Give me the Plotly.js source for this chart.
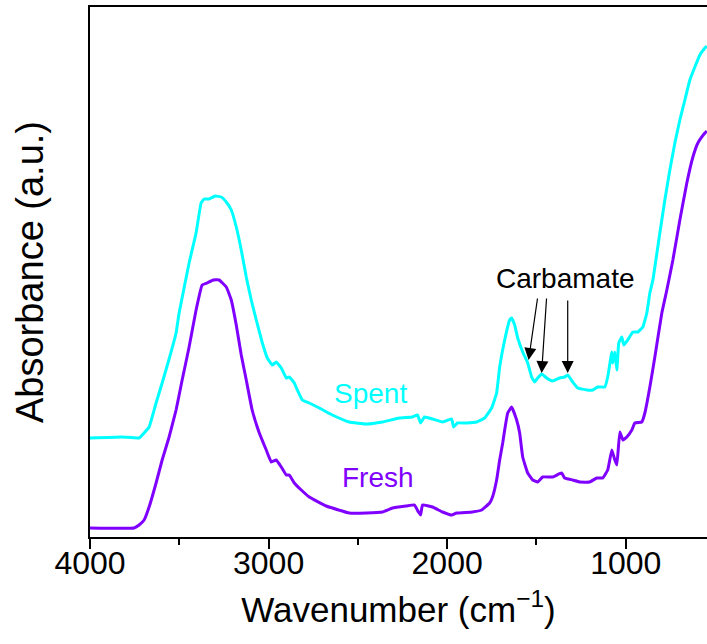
<!DOCTYPE html>
<html>
<head>
<meta charset="utf-8">
<script src="https://cdn.plot.ly/plotly-3.0.1.min.js"></script>
<style>html,body{margin:0;padding:0;background:#fff;}#chart{width:707px;height:644px;}</style>
</head>
<body>
<div id="chart"></div>
<script>
// Spent sample spectrum (wavenumber, absorbance a.u.)
const spentWavenumber = [4000,3820,3725,3697,3669,3630,3596,3557,3518,3501,3445,3406,3378,3361,3333,3299,3265,3237,3209,3181,3153,3125,3097,3069,3035,3007,2979,2957,2929,2901,2884,2856,2839,2811,2772,2716,2643,2548,2452,2362,2267,2194,2166,2149,2127,2082,2026,1975,1964,1942,1891,1835,1790,1751,1723,1706,1678,1650,1639,1622,1605,1577,1549,1527,1510,1493,1471,1443,1409,1370,1342,1325,1297,1269,1218,1185,1157,1117,1101,1078,1073,1061,1050,1039,1022,1011,989,960,932,904,882,865,848,837,809,781,753,725,697,669,641,613,585,557,546];
const spentAbs = [99,100,99,104,110,134,154,178,204,224,274,304,334,338,338,341,340,335,327,310,287,260,237,217,194,179,172,175,169,159,160,154,147,137,134,129,122,115,113,115,119,120,122,114,120,118,115,118,110,114,114,115,119,129,144,170,197,217,219,212,199,185,174,160,155,159,163,159,156,159,160,162,155,149,147,147,150,150,160,185,174,185,167,194,200,192,197,205,205,210,224,244,257,270,304,337,367,394,417,437,457,470,482,489,491];

// Fresh sample spectrum
const freshWavenumber = [4000,3753,3725,3697,3669,3630,3596,3557,3518,3484,3445,3406,3372,3344,3310,3277,3237,3209,3181,3153,3125,3092,3052,3013,2985,2957,2929,2901,2884,2856,2817,2772,2677,2548,2452,2362,2306,2228,2183,2161,2149,2138,2082,2026,1975,1947,1858,1807,1762,1746,1723,1706,1689,1678,1661,1639,1611,1594,1577,1549,1521,1493,1465,1409,1359,1342,1297,1258,1202,1162,1129,1101,1078,1061,1050,1033,1016,994,966,949,910,893,865,837,798,770,736,697,658,624,596,557,546];
const freshAbs = [9,9,12,17,30,54,77,100,127,157,190,227,252,254,257,257,250,237,212,182,157,127,104,87,75,77,70,62,62,54,47,40,31,24,24,25,29,31,32,25,22,32,30,25,22,24,25,27,34,40,57,77,94,107,124,130,117,104,80,64,57,55,60,60,64,59,57,55,55,59,59,67,87,77,72,105,97,100,107,114,115,124,150,180,224,247,277,317,354,380,394,404,406];

// Carbamate arrows: tail and head positions (wavenumber, absorbance)
const arrowTailW = [1493,1443,1325];
const arrowTailA = [240,240,238];
const arrowHeadW = [1544,1471,1325];
const arrowHeadA = [177,164,164];

// Axis ticks
const majorTicks = [4000, 3000, 2000, 1000];
const majorTickText = ["4000", "3000", "2000", "1000"];
const minorTicks = [3500, 2500, 1500];

const seriesNames = ["Spent","Fresh"];
const seriesColors = ["#00FFFF","#8000FF"];
const FONT = "Liberation Sans, Arial, sans-serif";

const traces = [
  {x: spentWavenumber, y: spentAbs, name: seriesNames[0], mode: "lines",
   line: {color: seriesColors[0], width: 3, shape: "spline", smoothing: 0.3}},
  {x: freshWavenumber, y: freshAbs, name: seriesNames[1], mode: "lines",
   line: {color: seriesColors[1], width: 3, shape: "spline", smoothing: 0.3}},
  // invisible helper so the label axis is active
  {x: [majorTicks[0]], y: [0], xaxis: "x2", mode: "markers", marker: {opacity: 0}, hoverinfo: "skip"}
];

const annotations = [
  {x: 2430, y: 144, text: "Spent", showarrow: false, font: {family: FONT, size: 28, color: seriesColors[0]}},
  {x: 2390, y: 60, text: "Fresh", showarrow: false, font: {family: FONT, size: 28, color: seriesColors[1]}},
  {x: 1336, y: 259, text: "Carbamate", showarrow: false, font: {family: FONT, size: 28, color: "#000"}}
];
for (let i = 0; i < arrowHeadW.length; i++) {
  annotations.push({
    x: arrowHeadW[i], y: arrowHeadA[i], ax: arrowTailW[i], ay: arrowTailA[i],
    axref: "x", ayref: "y", xref: "x", yref: "y",
    text: "", showarrow: true, arrowhead: 2, arrowsize: 2, arrowwidth: 1.2, arrowcolor: "#000"
  });
}

const layout = {
  width: 707, height: 644,
  margin: {l: 90, r: 0, t: 7, b: 107},
  paper_bgcolor: "#fff", plot_bgcolor: "#fff",
  showlegend: false,
  font: {family: FONT, color: "#000"},
  xaxis: {
    range: [4000, 545], autorange: false,
    showgrid: false, zeroline: false,
    showline: true, linecolor: "#000", linewidth: 2, mirror: true,
    ticks: "outside", ticklen: 10, tickwidth: 2, tickcolor: "#000",
    tickvals: majorTicks, showticklabels: false,
    minor: {tickvals: minorTicks, ticks: "outside", ticklen: 6, tickwidth: 2, tickcolor: "#000"},
    title: {text: "Wavenumber (cm<sup>\u22121</sup>)", font: {family: FONT, size: 35, color: "#000"}, standoff: 49}
  },
  xaxis2: {
    overlaying: "x", anchor: "y", side: "bottom",
    range: [4000, 545], autorange: false,
    showgrid: false, zeroline: false, showline: false,
    ticks: "", tickvals: majorTicks, ticktext: majorTickText,
    tickfont: {family: FONT, size: 32, color: "#000"},
    ticklabelstandoff: 4
  },
  yaxis: {
    range: [0, 530], autorange: false,
    showgrid: false, zeroline: false,
    showline: true, linecolor: "#000", linewidth: 2, mirror: false,
    ticks: "", showticklabels: false,
    title: {text: "Absorbance (a.u.)", font: {family: FONT, size: 38, color: "#000"}, standoff: 33}
  },
  annotations: annotations
};

Plotly.newPlot("chart", traces, layout, {displayModeBar: false, staticPlot: true});
</script>
</body>
</html>
